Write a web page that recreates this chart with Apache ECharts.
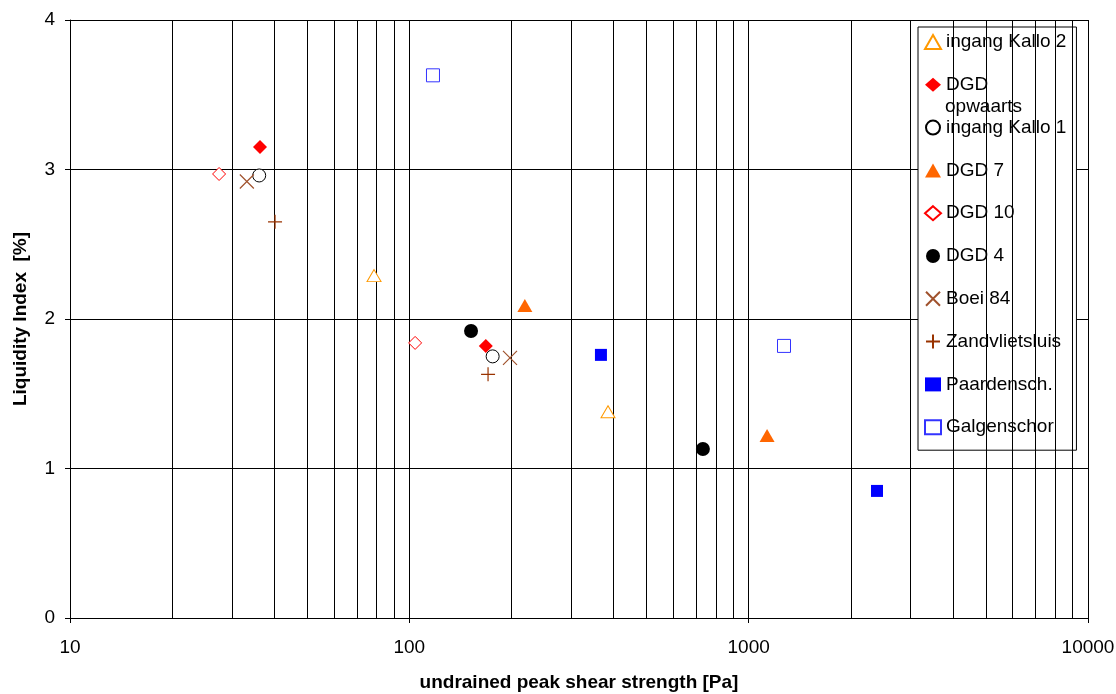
<!DOCTYPE html>
<html>
<head>
<meta charset="utf-8">
<style>
  html, body { margin: 0; padding: 0; background: #fff; }
  #chart { width: 1116px; height: 694px; }
</style>
<script src="https://cdn.jsdelivr.net/npm/echarts@6/dist/echarts.min.js"></script>
</head>
<body>
<div id="chart"></div>
<script>
// data: [shear strength Pa, liquidity index]
var ingangKallo2 = [[78.7, 2.29], [385, 1.38]];
var dgdOpwaarts = [[36.3, 3.15], [168, 1.82]];
var ingangKallo1 = [[36.1, 2.96], [176, 1.75]];
var dgd7 = [[219, 2.09], [1133, 1.22]];
var dgd10 = [[27.5, 2.97], [104, 1.84]];
var dgd4 = [[152, 1.92], [733, 1.13]];
var boei84 = [[33.2, 2.92], [198, 1.74]];
var zandvlietsluis = [[40.2, 2.65], [170.6, 1.63]];
var paardensch = [[367, 1.76], [2389, 0.85]];
var galgenschor = [[117.4, 3.63], [1271, 1.82]];

var xTicks = [10, 100, 1000, 10000];
var yTicks = [0, 1, 2, 3, 4];
// vertical grid lines between the decades
var minorGrid = [20, 30, 40, 50, 60, 70, 80, 90,
                 200, 300, 400, 500, 600, 700, 800, 900,
                 2000, 3000, 4000, 5000, 6000, 7000, 8000, 9000];

var FONT = 'Liberation Sans';
var CROSS = 'path://M0,0L10,10M10,0L0,10';
var PLUS = 'path://M5,0L5,10M0,5L10,5';

function filled(color) {
    return { color: color, opacity: 1 };
}
function open(color) {
    return { color: '#fff', borderColor: color, borderWidth: 1, opacity: 1 };
}
function stroke(color) {
    return { color: 'rgba(0,0,0,0)', borderColor: color, borderWidth: 1.2, opacity: 1 };
}

var seriesDefs = [
    { name: 'ingang Kallo 2', data: ingangKallo2, symbol: 'triangle', size: [14, 12], style: open('#FF9900') },
    { name: 'DGD opwaarts', data: dgdOpwaarts, symbol: 'diamond', size: 14, style: filled('#FF0000') },
    { name: 'ingang Kallo 1', data: ingangKallo1, symbol: 'circle', size: 13, style: open('#000') },
    { name: 'DGD 7', data: dgd7, symbol: 'triangle', size: [15, 13], style: filled('#FF6600') },
    { name: 'DGD 10', data: dgd10, symbol: 'diamond', size: 13, style: open('#FF0000') },
    { name: 'DGD 4', data: dgd4, symbol: 'circle', size: 14, style: filled('#000') },
    { name: 'Boei 84', data: boei84, symbol: CROSS, size: 14, style: stroke('#A0522D') },
    { name: 'Zandvlietsluis', data: zandvlietsluis, symbol: PLUS, size: 14, style: stroke('#993300') },
    { name: 'Paardensch.', data: paardensch, symbol: 'rect', size: 12, style: filled('#0000FF') },
    { name: 'Galgenschor', data: galgenschor, symbol: 'rect', size: 13, style: open('#3333FF') }
];

var series = seriesDefs.map(function (d) {
    return {
        name: d.name,
        type: 'scatter',
        data: d.data,
        symbol: d.symbol,
        symbolSize: d.size,
        itemStyle: d.style,
        z: 5
    };
});

// minor grid lines drawn through the x axis
series.push({
    name: '_grid',
    type: 'scatter',
    data: [],
    z: 1,
    silent: true,
    markLine: {
        silent: true,
        symbol: 'none',
        animation: false,
        label: { show: false },
        lineStyle: { color: '#000', width: 1, type: 'solid' },
        data: minorGrid.map(function (v) { return { xAxis: v }; })
    }
});

var chart = echarts.init(document.getElementById('chart'));
chart.setOption({
    animation: false,
    backgroundColor: '#fff',
    textStyle: { fontFamily: FONT },
    grid: { left: 70, top: 20, right: 28, bottom: 76, containLabel: false, outerBoundsMode: 'none' },
    xAxis: {
        type: 'log',
        logBase: 10,
        min: xTicks[0],
        max: xTicks[xTicks.length - 1],
        name: 'undrained peak shear strength [Pa]',
        nameLocation: 'middle',
        nameGap: 55,
        nameTextStyle: { fontFamily: FONT, fontSize: 19, fontWeight: 'bold', color: '#000' },
        axisLine: { show: true, lineStyle: { color: '#000', width: 1 } },
        axisTick: { show: true, length: 5, lineStyle: { color: '#000' } },
        axisLabel: {
            fontFamily: FONT, fontSize: 19, color: '#000', margin: 20,
            formatter: function (v) { return String(Math.round(v)); }
        },
        splitLine: { show: true, lineStyle: { color: '#000', width: 1 } }
    },
    yAxis: {
        type: 'value',
        min: yTicks[0],
        max: yTicks[yTicks.length - 1],
        interval: 1,
        name: 'Liquidity Index  [%]',
        nameLocation: 'middle',
        nameGap: 40,
        nameTextStyle: { fontFamily: FONT, fontSize: 19, fontWeight: 'bold', color: '#000' },
        axisLine: { show: true, lineStyle: { color: '#000', width: 1 } },
        axisTick: { show: true, length: 5, lineStyle: { color: '#000' } },
        axisLabel: { fontFamily: FONT, fontSize: 19, color: '#000', margin: 15 },
        splitLine: { show: true, lineStyle: { color: '#000', width: 1 } }
    },
    legend: {
        orient: 'vertical',
        left: 918,
        top: 27,
        selectedMode: false,
        data: seriesDefs.map(function (d) { return d.name; }),
        backgroundColor: '#fff',
        borderColor: '#000',
        borderWidth: 1,
        padding: [4.5, 10, 12.5, 6],
        itemWidth: 16,
        itemHeight: 14,
        itemGap: 21.8,
        formatter: function (name) {
            return name === 'DGD opwaarts' ? 'DGD' : name;
        },
        textStyle: { fontFamily: FONT, fontSize: 19, color: '#000', lineHeight: 21 }
    },
    graphic: [
        // second line of the wrapped legend entry
        { type: 'text', left: 945, top: 97, z: 100,
          style: { text: 'opwaarts', font: '19px "Liberation Sans"', fill: '#000' } }
    ],
    series: series
});
</script>
</body>
</html>
